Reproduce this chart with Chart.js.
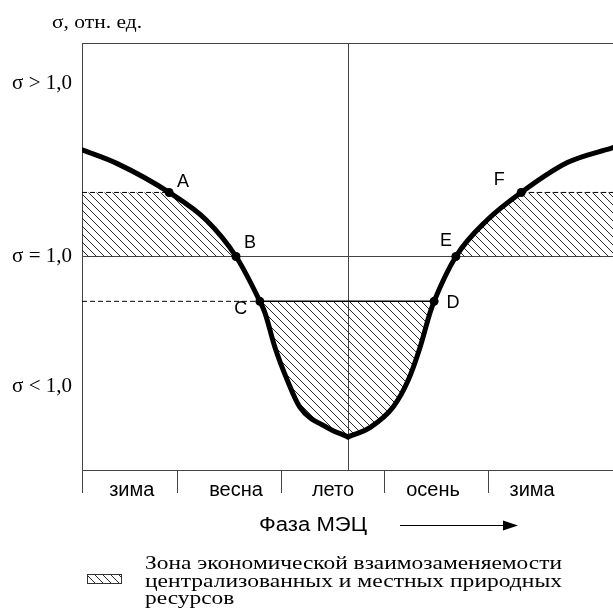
<!DOCTYPE html>
<html>
<head>
<meta charset="utf-8">
<script src="https://cdn.jsdelivr.net/npm/chart.js@4.4.0/dist/chart.umd.min.js"></script>
<style>
  html, body { margin: 0; padding: 0; background: #fff; overflow: hidden; }
</style>
</head>
<body>
<canvas id="chart" width="613" height="614"></canvas>
<script>
// phase of the cycle (x) and relative sigma (y)
const xMax = 5.12;
const yMax = 2.0;
const midX = 2.565;

const seasonBounds = [0, 0.92, 1.92, 2.92, 3.92];
const seasonCenters = [0.48, 1.485, 2.42, 3.385, 4.34];
const seasonLabels = ['зима', 'весна', 'лето', 'осень', 'зима'];

const yTickValues = [0.39, 1.0, 1.81, 2.0];
const yTickLabels = ['σ < 1,0', 'σ = 1,0', 'σ > 1,0', ''];

// curve, left branch (winter -> summer minimum) and right branch
const leftX = [0, 0.34, 0.84, 1.2, 1.485, 1.715, 1.765, 1.86, 1.98, 2.1, 2.36, 2.565];
const leftY = [1.5, 1.435, 1.3, 1.17, 1.0, 0.79, 0.735, 0.575, 0.42, 0.295, 0.2, 0.155];
const rightX = [2.565, 2.78, 3.0, 3.145, 3.26, 3.355, 3.395, 3.605, 3.905, 4.235, 4.68, 5.12];
const rightY = [0.155, 0.2, 0.295, 0.42, 0.575, 0.735, 0.79, 1.0, 1.17, 1.3, 1.44, 1.51];

// marked points A..F
const pointNames = ['A', 'B', 'C', 'D', 'E', 'F'];
const pointX = [0.84, 1.485, 1.715, 3.395, 3.605, 4.235];
const pointY = [1.3, 1.0, 0.79, 0.79, 1.0, 1.3];

const upperLevel = 1.3;
const lowerLevel = 0.79;
const unitLevel = 1.0;

const toXY = (xs, ys) => xs.map((x, i) => ({ x: x, y: ys[i] }));

function makeHatch() {
    const c = document.createElement('canvas');
    c.width = 8; c.height = 8;
    const g = c.getContext('2d');
    g.strokeStyle = '#111';
    g.lineWidth = 0.9;
    g.beginPath();
    g.moveTo(-2, -2); g.lineTo(10, 10);
    g.moveTo(-2, 6); g.lineTo(2, 10);
    g.moveTo(6, -2); g.lineTo(10, 2);
    g.stroke();
    return g.createPattern(c, 'repeat');
}
const hatch = makeHatch();

const A = 0, B = 1, C = 2, D = 3, E = 4, F = 5;

const lineDs = (data, extra) => Object.assign({
    data: data,
    borderColor: '#000',
    borderWidth: 1,
    pointRadius: 0,
    tension: 0,
    fill: false,
}, extra);

const datasets = [
    // 0 marked points
    lineDs(toXY(pointX, pointY), { showLine: false, pointRadius: 4.5, pointBackgroundColor: '#000', pointBorderWidth: 0 }),
    // 1, 2 curve
    lineDs(toXY(leftX, leftY), { borderWidth: 5, cubicInterpolationMode: 'monotone', borderCapStyle: 'round' }),
    lineDs(toXY(rightX, rightY), { borderWidth: 5, cubicInterpolationMode: 'monotone', borderCapStyle: 'round' }),
    // 3, 4 dashed level lines at the upper level
    lineDs([{ x: 0, y: upperLevel }, { x: pointX[A], y: upperLevel }], { borderDash: [5, 3] }),
    lineDs([{ x: pointX[F], y: upperLevel }, { x: xMax, y: upperLevel }], { borderDash: [5, 3] }),
    // 5 dashed lower level, 6 solid C-D
    lineDs([{ x: 0, y: lowerLevel }, { x: pointX[C], y: lowerLevel }], { borderDash: [5, 3] }),
    lineDs([{ x: pointX[C], y: lowerLevel }, { x: pointX[D], y: lowerLevel }], { borderWidth: 1.5 }),
    // 7..12 hatched zones
    lineDs([{ x: 0, y: upperLevel }, { x: pointX[A], y: upperLevel }], { borderWidth: 0, fill: { value: unitLevel }, backgroundColor: hatch }),
    lineDs([{ x: pointX[A], y: unitLevel }, { x: pointX[B], y: unitLevel }], { borderWidth: 0, fill: 1, backgroundColor: hatch }),
    lineDs([{ x: pointX[F], y: upperLevel }, { x: xMax, y: upperLevel }], { borderWidth: 0, fill: { value: unitLevel }, backgroundColor: hatch }),
    lineDs([{ x: pointX[E], y: unitLevel }, { x: pointX[F], y: unitLevel }], { borderWidth: 0, fill: 2, backgroundColor: hatch }),
    lineDs([{ x: pointX[C], y: lowerLevel }, { x: midX, y: lowerLevel }], { borderWidth: 0, fill: 1, backgroundColor: hatch }),
    lineDs([{ x: midX, y: lowerLevel }, { x: pointX[D], y: lowerLevel }], { borderWidth: 0, fill: 2, backgroundColor: hatch }),
];

// label offsets for A..F (pixels)
const labelOffsets = [[14, -10], [14, -13], [-19, 8], [19, 2], [-10, -15], [-22, -12]];

function stretchText(ctx, text, x, y, width, k) {
    const w = ctx.measureText(text).width;
    const s = k || (width / w);
    ctx.save();
    ctx.textAlign = 'left';
    ctx.textBaseline = 'middle';
    ctx.translate(x, y);
    ctx.scale(s, 1);
    ctx.fillText(text, 0, 0);
    ctx.restore();
    return s;
}

const textPlugin = {
    id: 'texts',
    afterDraw(chart) {
        const ctx = chart.ctx;
        const xs = chart.scales.x, ys = chart.scales.y;
        ctx.save();
        ctx.fillStyle = '#000';
        ctx.textAlign = 'center';
        ctx.textBaseline = 'middle';

        // point names
        ctx.font = '18px "Liberation Sans", Arial, sans-serif';
        pointNames.forEach((n, i) => {
            const px = xs.getPixelForValue(pointX[i]) + labelOffsets[i][0];
            const py = ys.getPixelForValue(pointY[i]) + labelOffsets[i][1];
            ctx.fillText(n, px, py);
        });

        // axis title
        ctx.font = '18px "Liberation Serif", "Times New Roman", serif';
        stretchText(ctx, 'σ, отн. ед.', 52, 23, 90);

        // phase caption with arrow
        ctx.font = '20px "Liberation Sans", Arial, sans-serif';
        stretchText(ctx, 'Фаза МЭЦ', 259, 525, 108);
        ctx.strokeStyle = '#000';
        ctx.lineWidth = 1;
        ctx.beginPath();
        ctx.moveTo(400, 525.5); ctx.lineTo(506, 525.5);
        ctx.stroke();
        ctx.beginPath();
        ctx.moveTo(518, 525.5); ctx.lineTo(503, 520.5); ctx.lineTo(503, 530.5);
        ctx.closePath();
        ctx.fill();

        // legend
        ctx.fillStyle = hatch;
        ctx.fillRect(87, 574, 35, 9);
        ctx.strokeStyle = '#333';
        ctx.strokeRect(87.5, 574.5, 34, 9);
        ctx.fillStyle = '#000';
        ctx.font = '18px "Liberation Serif", "Times New Roman", serif';
        const k = stretchText(ctx, 'Зона экономической взаимозаменяемости', 145, 564, 417);
        stretchText(ctx, 'централизованных и местных природных', 145, 582, 417);
        stretchText(ctx, 'ресурсов', 145, 599, null, k);
        ctx.restore();
    }
};

const xTicks = seasonBounds.concat(seasonCenters, [midX]).sort((a, b) => a - b);

new Chart(document.getElementById('chart'), {
    type: 'line',
    data: { datasets: datasets },
    options: {
        responsive: false,
        animation: false,
        layout: { autoPadding: false, padding: { top: 43, bottom: 110, left: 0, right: 0 } },
        plugins: {
            legend: { display: false },
            tooltip: { enabled: false },
        },
        scales: {
            x: {
                type: 'linear',
                min: 0,
                max: xMax,
                afterFit: (s) => { s.height = 34; s.paddingLeft = 0; s.paddingRight = 0; },
                afterBuildTicks: (s) => { s.ticks = xTicks.map(v => ({ value: v })); },
                border: { display: true, color: '#444', width: 1 },
                grid: {
                    drawOnChartArea: true,
                    tickLength: 23,
                    color: (c) => (c.tick && c.tick.value === midX ? '#444' : 'rgba(0,0,0,0)'),
                    tickColor: (c) => (c.tick && seasonBounds.includes(c.tick.value) ? '#444' : 'rgba(0,0,0,0)'),
                },
                ticks: {
                    autoSkip: false,
                    maxRotation: 0,
                    padding: -15,
                    color: '#000',
                    font: { family: '"Liberation Sans", Arial, sans-serif', size: 20 },
                    callback: (v) => {
                        const i = seasonCenters.indexOf(v);
                        return i >= 0 ? seasonLabels[i] : '';
                    },
                },
            },
            y: {
                type: 'linear',
                min: 0,
                max: yMax,
                afterFit: (s) => { s.width = 82; },
                afterBuildTicks: (s) => { s.ticks = yTickValues.map(v => ({ value: v })); },
                border: { display: true, color: '#444', width: 1 },
                grid: {
                    drawTicks: false,
                    color: (c) => (c.tick && (c.tick.value === unitLevel || c.tick.value === yMax) ? '#444' : 'rgba(0,0,0,0)'),
                },
                ticks: {
                    padding: 10,
                    color: '#000',
                    font: { family: '"Liberation Serif", "Times New Roman", serif', size: 21 },
                    callback: (v) => {
                        const i = yTickValues.indexOf(v);
                        return i >= 0 ? yTickLabels[i] : '';
                    },
                },
            },
        },
    },
    plugins: [textPlugin],
});
</script>
</body>
</html>
